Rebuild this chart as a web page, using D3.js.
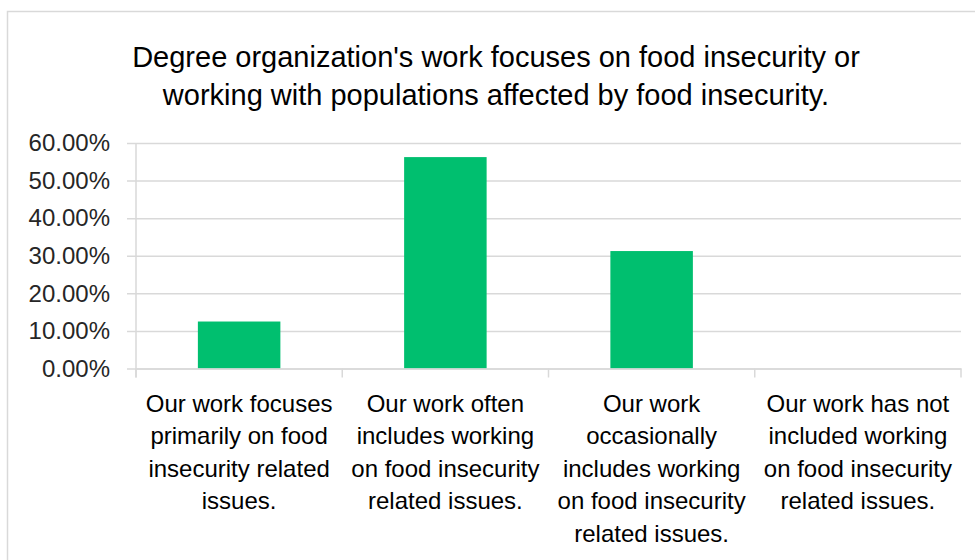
<!DOCTYPE html>
<html>
<head>
<meta charset="utf-8">
<script src="https://cdn.jsdelivr.net/npm/d3@7"></script>
<style>
  html, body { margin: 0; padding: 0; background: #fff; }
  svg { display: block; }
</style>
</head>
<body>
<svg id="chart" width="975" height="560"></svg>
<script>
const titleLines = [
  "Degree organization's work focuses on food insecurity or",
  "working with populations affected by food insecurity."
];
const categories = [
  "Our work focuses primarily on food insecurity related issues.",
  "Our work often includes working on food insecurity related issues.",
  "Our work occasionally includes working on food insecurity related issues.",
  "Our work has not included working on food insecurity related issues."
];
const categoryLines = [
  ["Our work focuses", "primarily on food", "insecurity related", "issues."],
  ["Our work often", "includes working", "on food insecurity", "related issues."],
  ["Our work", "occasionally", "includes working", "on food insecurity", "related issues."],
  ["Our work has not", "included working", "on food insecurity", "related issues."]
];
const values = [0.125, 0.5625, 0.3125, 0];
const yTicks = [0, 0.1, 0.2, 0.3, 0.4, 0.5, 0.6];

const svg = d3.select("#chart");
const W = 975, H = 560;
const margin = { left: 136, right: 14, top: 143, bottom: 191.5 };
const innerW = W - margin.left - margin.right;
const innerH = H - margin.top - margin.bottom;

// frame
svg.append("rect")
  .attr("x", 7.5).attr("y", 11.5)
  .attr("width", 1000).attr("height", 600)
  .attr("fill", "#fff").attr("stroke", "#d9d9d9").attr("stroke-width", 1.5);

// title
svg.append("g").selectAll("text").data(titleLines).join("text")
  .attr("x", 496).attr("y", (d, i) => 67 + i * 38)
  .attr("text-anchor", "middle")
  .attr("font-family", "'Liberation Sans', Arial, sans-serif")
  .attr("font-size", 29)
  .attr("fill", "#000")
  .text(d => d);

const g = svg.append("g").attr("transform", `translate(${margin.left},${margin.top})`);

const x = d3.scaleBand().domain(categories).range([0, innerW])
  .paddingInner(0.6).paddingOuter(0.3);
const xb = d3.scaleBand().domain(categories).range([0, innerW]).padding(0);
const y = d3.scaleLinear().domain([0, 0.6]).range([innerH, 0]);

// gridlines via y axis
const yAxis = d3.axisLeft(y).tickValues(yTicks)
  .tickSize(-innerW).tickSizeOuter(0).tickPadding(26)
  .tickFormat(d3.format(".2%"));
const yg = g.append("g").call(yAxis);
yg.select(".domain").remove();
yg.selectAll(".tick line")
  .attr("x1", -9).attr("stroke", "#d9d9d9").attr("stroke-width", 1.5);
yg.selectAll(".tick text")
  .attr("font-family", "'Liberation Sans', Arial, sans-serif")
  .attr("font-size", 24).attr("fill", "#262626");

// y axis vertical line
g.append("line")
  .attr("x1", 0).attr("x2", 0).attr("y1", 0).attr("y2", innerH + 9)
  .attr("stroke", "#d9d9d9").attr("stroke-width", 1.5);

// bars
g.append("g").selectAll("rect").data(values).join("rect")
  .attr("x", (d, i) => x(categories[i]))
  .attr("width", x.bandwidth())
  .attr("y", d => y(d))
  .attr("height", d => innerH - y(d))
  .attr("fill", "#00bf6f");

// x axis baseline with category boundary ticks
const xAxis = d3.axisBottom(xb).tickSize(0).tickFormat("");
const xg = g.append("g").attr("transform", `translate(0,${innerH})`).call(xAxis);
xg.select(".domain").attr("stroke", "#d9d9d9").attr("stroke-width", 1.5);
const bounds = categories.map(c => xb(c)).concat([innerW]);
xg.selectAll("line.bound").data(bounds).join("line").attr("class", "bound")
  .attr("x1", d => d).attr("x2", d => d).attr("y1", 0).attr("y2", 9)
  .attr("stroke", "#d9d9d9").attr("stroke-width", 1.5);

// category labels
const lab = xg.selectAll("text.cat").data(categoryLines).join("text").attr("class", "cat")
  .attr("text-anchor", "middle")
  .attr("font-family", "'Liberation Sans', Arial, sans-serif")
  .attr("font-size", 24).attr("fill", "#000");
lab.each(function(lines, i) {
  const cx = xb(categories[i]) + xb.bandwidth() / 2;
  d3.select(this).selectAll("tspan").data(lines).join("tspan")
    .attr("x", cx).attr("y", (d, j) => 43 + j * 32.5)
    .text(d => d);
});
</script>
</body>
</html>
